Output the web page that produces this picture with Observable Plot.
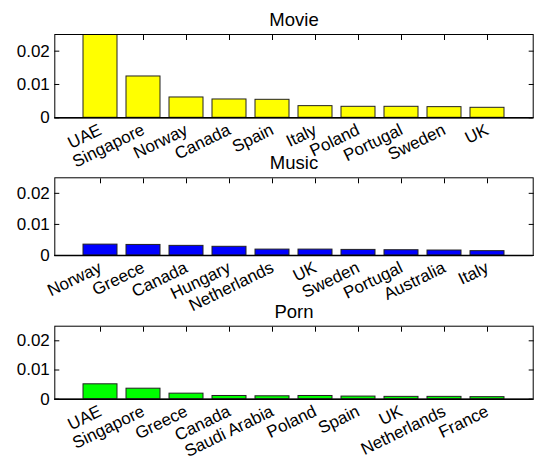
<!DOCTYPE html>
<html><head><meta charset="utf-8">
<script src="https://cdn.jsdelivr.net/npm/d3@7"></script>
<script src="https://cdn.jsdelivr.net/npm/@observablehq/plot@0.6"></script>
<style>
body{margin:0;background:#fff;}
#chart{width:536px;height:462px;position:relative;overflow:hidden;background:#fff;}
#chart svg{display:block;}
</style></head><body><div id="chart"></div>
<script>
// ---- data ----
const movieCountries = ["UAE","Singapore","Norway","Canada","Spain","Italy","Poland","Portugal","Sweden","UK"];
const movieValues    = [0.0305, 0.0124, 0.0061, 0.0055, 0.0054, 0.0035, 0.0033, 0.0033, 0.0032, 0.0030];
const musicCountries = ["Norway","Greece","Canada","Hungary","Netherlands","UK","Sweden","Portugal","Australia","Italy"];
const musicValues    = [0.0035, 0.0034, 0.0031, 0.0028, 0.0019, 0.0019, 0.0018, 0.0017, 0.0016, 0.0014];
const pornCountries  = ["UAE","Singapore","Greece","Canada","Saudi Arabia","Poland","Spain","UK","Netherlands","France"];
const pornValues     = [0.0051, 0.0036, 0.0019, 0.0011, 0.0010, 0.0011, 0.0009, 0.0008, 0.0008, 0.0007];
const panelTitles = ["Movie","Music","Porn"];
const yTicks = [0, 0.01, 0.02];
const yDomain = [0, 0.025];

// ---- layout / style ----
const font = "'Liberation Sans', Arial, Helvetica, sans-serif";
const panels = [
  {title: panelTitles[0], countries: movieCountries, values: movieValues, color: "#ffff00", height: 150, marginTop: 34, marginBottom: 32.7},
  {title: panelTitles[1], countries: musicCountries, values: musicValues, color: "#0000ff", height: 150, marginTop: 27.3, marginBottom: 45},
  {title: panelTitles[2], countries: pornCountries,  values: pornValues,  color: "#00ff00", height: 162, marginTop: 25.7, marginBottom: 63.3}
];

const chart = document.getElementById("chart");
panels.forEach(p => {
  const data = p.countries.map((c, i) => ({country: c, value: p.values[i]}));
  const svg = Plot.plot({
    width: 536,
    height: p.height,
    marginLeft: 54.3,
    marginRight: 3.3,
    marginTop: p.marginTop,
    marginBottom: p.marginBottom,
    style: {fontFamily: font, fontSize: "17px", background: "transparent", overflow: "visible", color: "black"},
    x: {type: "band", domain: p.countries, paddingInner: 0.2, paddingOuter: 0.6, axis: null},
    y: {domain: yDomain, axis: null},
    marks: [
      Plot.axisX({anchor: "top", tickSize: -5, tickFormat: () => "", label: null}),
      Plot.axisY({anchor: "left", ticks: yTicks, tickSize: -5, tickPadding: 10, tickFormat: d => String(d), label: null, fontSize: 17}),
      Plot.axisY({anchor: "right", ticks: yTicks, tickSize: -5, tickFormat: () => "", label: null}),
      Plot.barY(data, {x: "country", y: "value", fill: p.color, stroke: "#222", strokeWidth: 1, clip: true}),
      Plot.ruleY([0], {stroke: "black", strokeWidth: 1.5}),
      Plot.frame({stroke: "black", strokeWidth: 1}),
      Plot.text(data, {x: "country", frameAnchor: "bottom", text: "country", rotate: -26, textAnchor: "end", lineAnchor: "top", dx: -3, dy: 5, fontSize: 17}),
      Plot.text([p.title], {frameAnchor: "top", text: d => d, lineAnchor: "bottom", dy: -8.5, fontSize: 18.5})
    ]
  });
  chart.appendChild(svg);
});
</script>
</body></html>
